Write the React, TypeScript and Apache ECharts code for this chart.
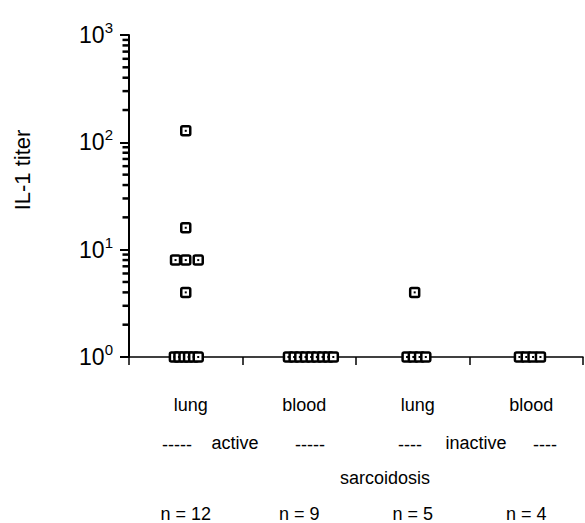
import React, { useEffect, useRef } from "react";
import * as echarts from "echarts";

// ---- Data ----
const GROUP_LABELS = ["lung", "blood", "lung", "blood"];

// IL-1 titers per group
const ACTIVE_LUNG_TITERS = [128, 16, 8, 8, 8, 4, 1, 1, 1, 1, 1, 1];
const ACTIVE_BLOOD_TITERS = [1, 1, 1, 1, 1, 1, 1, 1, 1];
const INACTIVE_LUNG_TITERS = [4, 1, 1, 1, 1];
const INACTIVE_BLOOD_TITERS = [1, 1, 1, 1];

// horizontal jitter of each point, relative to its group's centre (in group widths)
const ACTIVE_LUNG_JITTER = [0, 0, -0.09, 0, 0.11, 0, -0.1, -0.06, -0.015, 0.025, 0.07, 0.11];
const ACTIVE_BLOOD_JITTER = [-0.095, -0.045, 0.005, 0.055, 0.105, 0.155, 0.205, 0.255, 0.3];
const INACTIVE_LUNG_JITTER = [0.017, -0.05, 0.005, 0.06, 0.115];
const INACTIVE_BLOOD_JITTER = [-0.06, 0.0, 0.06, 0.125];

const GROUP_TITERS = [ACTIVE_LUNG_TITERS, ACTIVE_BLOOD_TITERS, INACTIVE_LUNG_TITERS, INACTIVE_BLOOD_TITERS];
const GROUP_JITTER = [ACTIVE_LUNG_JITTER, ACTIVE_BLOOD_JITTER, INACTIVE_LUNG_JITTER, INACTIVE_BLOOD_JITTER];

// log-axis minor tick values (2..9 in each decade)
const MINOR_TICKS = [2, 3, 4, 5, 6, 7, 8, 9, 20, 30, 40, 50, 60, 70, 80, 90, 200, 300, 400, 500, 600, 700, 800, 900];

const FONT = "'Liberation Sans', Arial, Helvetica, sans-serif";

export default function App() {
  const ref = useRef<HTMLDivElement>(null);

  useEffect(() => {
    if (!ref.current) return;
    const chart = echarts.init(ref.current, null, { renderer: "svg" });

    const points: number[][] = [];
    GROUP_TITERS.forEach((titers, g) => {
      titers.forEach((t, i) => {
        points.push([g + 0.5 + GROUP_JITTER[g][i], t]);
      });
    });
    const nLabels = GROUP_TITERS.map((t) => `n = ${t.length}`);

    const textStyle = (text: string, x: number, y: number, size = 18) => ({
      type: "text",
      x,
      y,
      style: {
        text,
        font: `${size}px ${FONT}`,
        fill: "#000",
        textAlign: "center",
        textVerticalAlign: "middle",
      },
    });

    const option: any = {
      animation: false,
      backgroundColor: "#fff",
      grid: { left: 129, right: 2, top: 35, bottom: 164, containLabel: false },
      xAxis: [
        {
          type: "value",
          min: 0,
          max: 4,
          interval: 1,
          axisLine: { show: true, lineStyle: { color: "#000", width: 1.5 } },
          axisTick: { show: true, length: 8, lineStyle: { color: "#000", width: 1.5 } },
          axisLabel: { show: false },
          splitLine: { show: false },
        },
        {
          type: "category",
          data: GROUP_LABELS,
          position: "bottom",
          boundaryGap: true,
          axisLine: { show: false },
          axisTick: { show: false },
          axisLabel: { margin: 39, fontSize: 18, fontFamily: FONT, color: "#000", padding: [0, 0, 0, 10] },
        },
        {
          type: "category",
          data: nLabels,
          position: "bottom",
          boundaryGap: true,
          axisLine: { show: false },
          axisTick: { show: false },
          axisLabel: { margin: 148, fontSize: 18, fontFamily: FONT, color: "#000" },
        },
      ],
      yAxis: {
        type: "log",
        logBase: 10,
        min: 1,
        max: 1000,
        axisLine: { show: true, lineStyle: { color: "#000", width: 2 } },
        axisTick: { show: true, length: 9, lineStyle: { color: "#000", width: 2 } },
        splitLine: { show: false },
        axisLabel: {
          margin: 16,
          formatter: (v: number) => `{b|10}{s|${Math.round(Math.log10(v))}}`,
          rich: {
            b: { fontSize: 23, fontFamily: FONT, color: "#000", lineHeight: 30 },
            s: { fontSize: 15, fontFamily: FONT, color: "#000", verticalAlign: "top" },
          },
        },
      },
      graphic: [
        {
          type: "text",
          x: 22,
          y: 170,
          rotation: Math.PI / 2,
          style: {
            text: "IL-1 titer",
            font: `22px ${FONT}`,
            fill: "#000",
            textAlign: "center",
            textVerticalAlign: "middle",
          },
        },
        textStyle("-----", 177, 445),
        textStyle("active", 235, 443),
        textStyle("-----", 310, 445),
        textStyle("----", 410, 445),
        textStyle("inactive", 476, 443),
        textStyle("----", 545, 445),
        textStyle("sarcoidosis", 385, 478),
      ],
      series: [
        {
          name: "minor ticks",
          type: "scatter",
          xAxisIndex: 0,
          yAxisIndex: 0,
          clip: false,
          silent: true,
          z: 5,
          symbol: "rect",
          symbolSize: [7, 2.5],
          symbolOffset: [-3, 0],
          itemStyle: { color: "#000", opacity: 1 },
          data: MINOR_TICKS.map((v) => [0, v]),
        },
        {
          type: "custom",
          coordinateSystem: "cartesian2d",
          xAxisIndex: 0,
          yAxisIndex: 0,
          clip: false,
          z: 6,
          data: points,
          encode: { x: 0, y: 1 },
          renderItem: (params: any, api: any) => {
            const p = api.coord([api.value(0), api.value(1)]);
            return {
              type: "group",
              children: [
                {
                  type: "rect",
                  shape: { x: p[0] - 4.5, y: p[1] - 4.5, width: 9, height: 9, r: 1.5 },
                  style: { fill: "#fff", stroke: "#000", lineWidth: 2.5 },
                },
                {
                  type: "rect",
                  shape: { x: p[0] - 1, y: p[1] - 1, width: 2, height: 2 },
                  style: { fill: "#000" },
                },
              ],
            };
          },
        },
      ],
    };

    chart.setOption(option);
    return () => chart.dispose();
  }, []);

  return (
    <div
      ref={ref}
      style={{ position: "fixed", left: 0, top: 0, width: 585, height: 523, background: "#fff" }}
    />
  );
}
